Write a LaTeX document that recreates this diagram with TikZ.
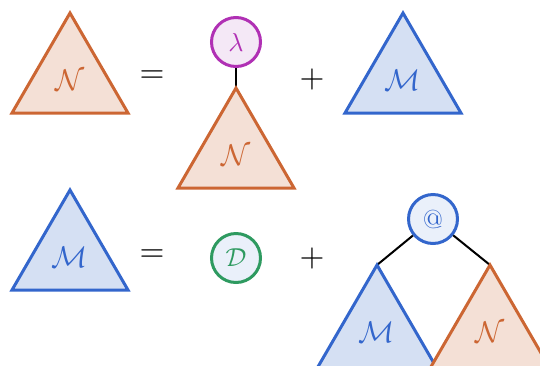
\documentclass[tikz,border=0pt]{standalone}
\usepackage{graphicx}
\usepackage{amsmath}
\definecolor{nline}{RGB}{204,102,51}
\definecolor{nfill}{RGB}{244,224,214}
\definecolor{mline}{RGB}{51,102,204}
\definecolor{mfill}{RGB}{213,224,243}
\definecolor{lline}{RGB}{176,48,180}
\definecolor{lfill}{RGB}{244,232,246}
\definecolor{dline}{RGB}{46,154,96}
\definecolor{cfill}{RGB}{234,240,250}
\newcommand{\trilab}[1]{\scalebox{3}{#1}}
\newcommand{\oplab}[1]{\scalebox{3.2}{#1}}
\newcommand{\circlab}[1]{\scalebox{2.6}{#1}}
\tikzset{
  ntri/.style={draw=nline,fill=nfill,line width=3pt},
  mtri/.style={draw=mline,fill=mfill,line width=3pt},
  lab/.style={inner sep=0pt},
  circ/.style={circle,line width=3pt,minimum size=49pt,inner sep=0pt},
  op/.style={inner sep=0pt},
  conn/.style={line width=2pt,black},
}
\newcommand{\tri}[3]{% style, apex x, apex y
  \path[#1] (#2,#3) -- ++(-58,100) -- ++(116,0) -- cycle;}
\newcommand{\tritall}[3]{% style, apex x, apex y; base below the page
  \path[#1] (#2,#3) -- ++(-61.48,106) -- ++(122.96,0) -- cycle;}
\begin{document}
\begin{tikzpicture}[x=1pt,y=-1pt]
\useasboundingbox (0,0) rectangle (540,365);
\clip (0,0) rectangle (540,365);
% row 1
\tri{ntri}{70}{13}
\node[lab,text=nline] (n1) at (70,80) {\trilab{$\mathcal{N}$}};
\node[op] (eq1) at (152,77) {\oplab{$=$}};
\node[circ,draw=lline,fill=lfill,text=lline] (lam) at (236,42) {\circlab{$\lambda$}};
\coordinate (a2) at (236,88);
\draw[conn] (lam) -- (a2);
\tri{ntri}{236}{88}
\node[lab,text=nline] (n2) at (236,155) {\trilab{$\mathcal{N}$}};
\node[op] (pl1) at (312,79) {\oplab{$+$}};
\tri{mtri}{403}{13}
\node[lab,text=mline] (m1) at (403,80) {\trilab{$\mathcal{M}$}};
% row 2
\tri{mtri}{70}{190}
\node[lab,text=mline] (m2) at (70,257) {\trilab{$\mathcal{M}$}};
\node[op] (eq2) at (152,256) {\oplab{$=$}};
\node[circ,draw=dline,fill=cfill,text=dline] (d) at (236,258) {\circlab{$\mathcal{D}$}};
\node[op] (pl2) at (312,258) {\oplab{$+$}};
\node[circ,draw=mline,fill=cfill,text=mline] (at) at (433,219) {\circlab{@}};
\coordinate (a3) at (377,265);
\coordinate (a4) at (490,265);
\draw[conn] (at) -- (a3);
\draw[conn] (at) -- (a4);
\tritall{mtri}{377}{265}
\node[lab,text=mline] (m3) at (377,332) {\trilab{$\mathcal{M}$}};
\tritall{ntri}{490}{265}
\node[lab,text=nline] (n3) at (490,332) {\trilab{$\mathcal{N}$}};
\end{tikzpicture}
\end{document}
